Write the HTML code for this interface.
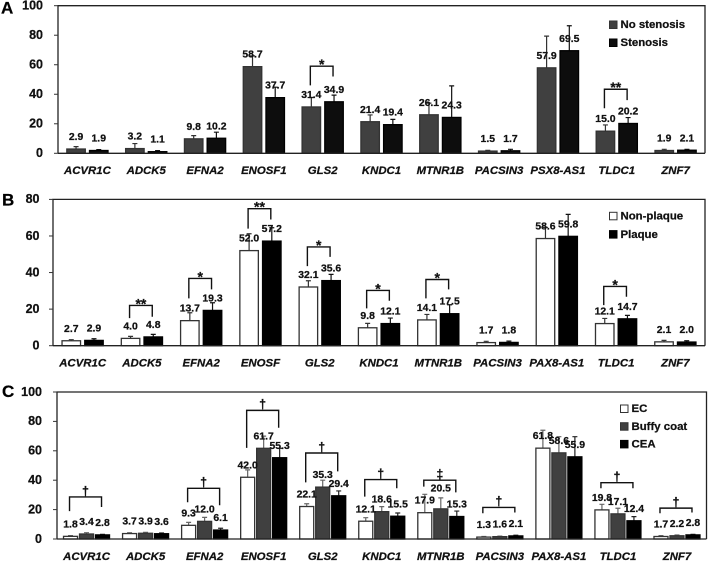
<!DOCTYPE html>
<html lang="en">
<head>
<meta charset="utf-8">
<title>Gene methylation bar charts</title>
<style>
html,body{margin:0;padding:0;background:#fff;}
svg{display:block;filter:blur(0.35px);}
text{font-family:"Liberation Sans",sans-serif;font-weight:bold;fill:#111;stroke:#111;stroke-width:0.25px;}
</style>
</head>
<body>
<svg id="chart" xmlns="http://www.w3.org/2000/svg" width="708" height="562" viewBox="0 0 708 562"></svg>
<script>
// Panel A data
const genesA = ['ACVR1C','ADCK5','EFNA2','ENOSF1','GLS2','KNDC1','MTNR1B','PACSIN3','PSX8-AS1','TLDC1','ZNF7'];
const noStenosis = [2.9,3.2,9.8,58.7,31.4,21.4,26.1,1.5,57.9,15.0,1.9];
const stenosis = [1.9,1.1,10.2,37.7,34.9,19.4,24.3,1.7,69.5,20.2,2.1];
const noStenosisErr = [1.6,3.4,2.2,7.3,6.4,4.6,7.9,0.5,21.5,4.2,0.8];
const stenosisErr = [0.6,0.7,4.1,7.1,4.5,3.6,21.4,1.0,16.9,4.0,0.6];
const bracketsA = [[4,59,46,52,'*'],[9,43.4,30.5,36,'**']];
const ticksA = [0,20,40,60,80,100];

// Panel B data
const genesB = ['ACVR1C','ADCK5','EFNA2','ENOSF','GLS2','KNDC1','MTNR1B','PACSIN3','PAX8-AS1','TLDC1','ZNF7'];
const nonPlaque = [2.7,4.0,13.7,52.0,32.1,9.8,14.1,1.7,58.6,12.1,2.1];
const plaque = [2.9,4.8,19.3,57.2,35.6,12.1,17.5,1.8,59.8,14.7,2.0];
const nonPlaqueErr = [0.6,1.1,4.3,9.2,3.4,2.4,3.0,0.7,6.1,2.8,0.8];
const plaqueErr = [0.9,1.4,4.2,7.3,3.4,3.0,4.9,0.7,12.0,1.9,0.7];
const bracketsB = [[1,22,15.1,15.8,'**'],[2,36.8,25.9,30.8,'*'],[3,74.9,64,69,'**'],[4,54,43.5,48.6,'*'],[5,30.2,20.4,24.6,'*'],[6,36.2,25.9,30.8,'*'],[9,32.4,22.2,26.8,'*']];
const ticksB = [0,20,40,60,80];

// Panel C data
const genesC = ['ACVR1C','ADCK5','EFNA2','ENOSF1','GLS2','KNDC1','MTNR1B','PACSIN3','PAX8-AS1','TLDC1','ZNF7'];
const ec = [1.8,3.7,9.3,42.0,22.1,12.1,17.9,1.3,61.8,19.8,1.7];
const buffyCoat = [3.4,3.9,12.0,61.7,35.3,18.6,20.5,1.6,58.6,17.1,2.2];
const cea = [2.8,3.6,6.1,55.3,29.4,15.5,15.3,2.1,55.9,12.4,2.8];
const ecErr = [0.5,0.6,2.0,5.0,1.9,2.4,12.5,0.4,12.2,3.8,0.6];
const buffyCoatErr = [0.9,0.6,2.7,8.3,4.7,3.4,7.5,0.4,11.0,3.8,0.5];
const ceaErr = [0.4,0.5,1.2,6.4,3.3,2.2,3.7,0.5,13.7,2.8,0.4];
const bracketsC = [[0,28.6,19,21.8,'†'],[2,34.5,25,23,'†'],[3,87.5,62,75.7,'†'],[4,58.5,38.5,46,'†'],[5,40.4,28.8,34.5,'†'],[6,40,35.6,31.7,'‡'],[7,21.5,17.5,18,'†'],[9,38.3,34.5,34.5,'†'],[10,21,17.5,18,'†']];
const ticksC = [0,20,40,60,80,100];

const SVG_NS = 'http://www.w3.org/2000/svg';
const root = document.getElementById('chart');

function make(tag, attrs, parent, content) {
  const el = document.createElementNS(SVG_NS, tag);
  for (const k in attrs) el.setAttribute(k, attrs[k]);
  if (content !== undefined) el.textContent = content;
  parent.appendChild(el);
  return el;
}
function slug(s) {
  return String(s).toLowerCase().replace(/[^a-z0-9]+/g, '-');
}

function drawPanel(p) {
  const g = make('g', {}, root);
  
  
  const yScale = v => p.bottom - (v / p.yMax) * (p.bottom - p.top);
  const band = (p.right - p.left) / p.genes.length;
  const xCenter = i => p.left + band * (i + 0.5);
  const barOffset = s => (s - (p.series.length - 1) / 2) * p.step;

  // panel letter
  const letter = make('text', {x: p.letterX, y: p.letterY, 'font-size': 17, 'dominant-baseline': 'middle', style: 'fill:#000;stroke:#000'}, g, p.id);
  
  

  // frame
  const frame = make('path', {
    d: `M${p.left} ${p.bottom}V${p.top}H${p.right}V${p.bottom}`,
    fill: 'none', stroke: '#222', 'stroke-width': 1.3
  }, g);
  
  

  // y axis ticks and labels
  p.ticks.forEach(t => {
    const tick = make('line', {x1: p.left - 4, x2: p.left, y1: yScale(t), y2: yScale(t), stroke: '#333', 'stroke-width': 1}, g);
    
    
    const lab = make('text', {x: p.left - p.tickGap, y: yScale(t) + 0.5, 'font-size': 12.5, 'text-anchor': 'end', 'dominant-baseline': 'middle'}, g, t);
    
    
  });

  // bars and error bars
  p.series.forEach((s, si) => {
    s.values.forEach((v, i) => {
      const cx = xCenter(i) + barOffset(si);
      const y = yScale(v);
      const errTop = yScale(v + s.errors[i]);
      const err = make('path', {
        d: `M${cx} ${y}V${errTop}M${cx - 2.5} ${errTop}H${cx + 2.5}`,
        fill: 'none', stroke: s.errColor, 'stroke-width': 1.2
      }, g);
      
      
      const bar = make('rect', {
        x: cx - p.barW / 2 + 0.5, y: y, width: p.barW - 1, height: Math.max(p.bottom - y, 0),
        fill: s.fill, stroke: s.stroke, 'stroke-width': 1.3
      }, g);
      
      
    });
  });

  // baseline above bars
  const base = make('line', {x1: p.left, x2: p.right, y1: p.bottom, y2: p.bottom, stroke: '#222', 'stroke-width': 1.3}, g);
  
  

  // brackets
  p.brackets.forEach(b => {
    const first = xCenter(b[0]) + barOffset(0) - 1;
    const last = xCenter(b[0]) + barOffset(p.series.length - 1) - 1;
    const path = make('path', {
      d: `M${first} ${yScale(b[2])}V${yScale(b[1])}H${last}V${yScale(b[3])}`,
      fill: 'none', stroke: '#111', 'stroke-width': 1.4
    }, g);
    
    
    const isStar = b[4].charAt(0) === '*';
    const sym = make('text', {
      x: (first + last) / 2, y: yScale(b[1]) + (isStar ? 3 : -5),
      'font-size': isStar ? 14 : 12.5, 'text-anchor': 'middle', 'dominant-baseline': isStar ? 'auto' : 'middle'
    }, g, b[4]);
    
    
  });

  // value labels
  p.series.forEach((s, si) => {
    s.values.forEach((v, i) => {
      const cx = xCenter(i) + barOffset(si);
      const lift = (p.id === 'C' && si === 1 && i === 6) ? 20 : 11.7;
      const lab = make('text', {x: cx, y: yScale(v) - lift, 'font-size': 10.4, 'text-anchor': 'middle', 'dominant-baseline': 'middle'}, g, v.toFixed(1));
      
      
    });
  });

  // category labels
  p.genes.forEach((name, i) => {
    const lab = make('text', {x: xCenter(i), y: p.catY, 'font-size': 11.4, 'font-style': 'italic', 'text-anchor': 'middle', 'dominant-baseline': 'middle'}, g, name);
    
    
  });

  // legend
  p.series.forEach((s, si) => {
    const ly = p.legendY + si * p.legendStep;
    const swatch = make('rect', {x: p.legendX + 0.5, y: ly - 3.7, width: 7.5, height: 7.5, fill: s.fill, stroke: s.stroke, 'stroke-width': 1}, g);
    
    
    const lab = make('text', {x: p.legendX + 11.5, y: ly + 0.5, 'font-size': 11.4, 'dominant-baseline': 'middle'}, g, s.name);
    
    
  });
}

drawPanel({
  id: 'A', genes: genesA, ticks: ticksA, brackets: bracketsA, yMax: 100,
  left: 58, right: 705, top: 5.7, bottom: 153.3, step: 22.7, barW: 19.5,
  tickGap: 15, letterX: 1, letterY: 9, catY: 171,
  legendX: 609, legendY: 24.7, legendStep: 18,
  series: [
    {name: 'No stenosis', values: noStenosis, errors: noStenosisErr, fill: '#404040', stroke: '#333', errColor: '#333'},
    {name: 'Stenosis', values: stenosis, errors: stenosisErr, fill: '#0d0d0d', stroke: '#000', errColor: '#111'}
  ]
});

drawPanel({
  id: 'B', genes: genesB, ticks: ticksB, brackets: bracketsB, yMax: 80,
  left: 53, right: 705, top: 199.4, bottom: 345.7, step: 22.7, barW: 19.5,
  tickGap: 13.5, letterX: 2, letterY: 201, catY: 363.5,
  legendX: 609, legendY: 216, legendStep: 18.3,
  series: [
    {name: 'Non-plaque', values: nonPlaque, errors: nonPlaqueErr, fill: '#fff', stroke: '#333', errColor: '#333'},
    {name: 'Plaque', values: plaque, errors: plaqueErr, fill: '#000', stroke: '#000', errColor: '#111'}
  ]
});

drawPanel({
  id: 'C', genes: genesC, ticks: ticksC, brackets: bracketsC, yMax: 100,
  left: 57, right: 706.5, top: 392, bottom: 539, step: 16, barW: 15,
  tickGap: 15, letterX: 2, letterY: 392.5, catY: 557,
  legendX: 620, legendY: 408.7, legendStep: 17.7,
  series: [
    {name: 'EC', values: ec, errors: ecErr, fill: '#fff', stroke: '#333', errColor: '#666'},
    {name: 'Buffy coat', values: buffyCoat, errors: buffyCoatErr, fill: '#404040', stroke: '#333', errColor: '#666'},
    {name: 'CEA', values: cea, errors: ceaErr, fill: '#000', stroke: '#000', errColor: '#222'}
  ]
});
</script>
</body>
</html>
